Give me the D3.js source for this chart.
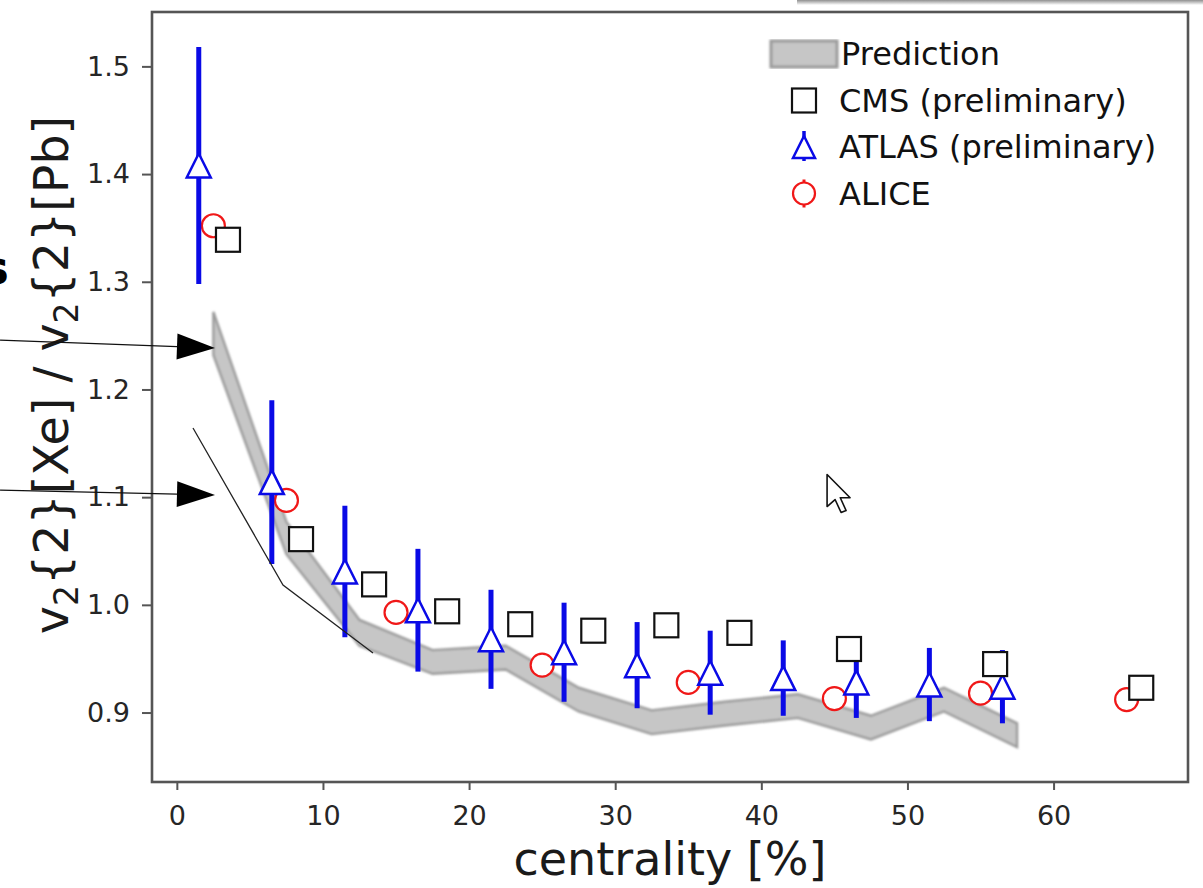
<!DOCTYPE html>
<html>
<head>
<meta charset="utf-8">
<script src="https://cdn.jsdelivr.net/npm/d3@7"></script>
<style>
  body { margin: 0; background: #fff; }
  svg { display: block; font-family: "DejaVu Sans", sans-serif; }
</style>
</head>
<body>
<svg id="chart" width="1203" height="888"></svg>
<script>
// ---- axis ticks ----
const xTicks = [0, 10, 20, 30, 40, 50, 60];
const yTicks = [0.9, 1.0, 1.1, 1.2, 1.3, 1.4, 1.5];

// ---- model prediction band (5% centrality bins) ----
const predX    = [2.5, 7.5, 12.5, 17.5, 22.5, 27.5, 32.5, 37.5, 42.5, 47.5, 52.5, 57.5];
const predLow  = [1.232, 1.047, 0.962, 0.936, 0.940, 0.901, 0.880, 0.888, 0.895, 0.875, 0.901, 0.868];
const predHigh = [1.272, 1.077, 0.986, 0.958, 0.962, 0.923, 0.902, 0.910, 0.917, 0.897, 0.923, 0.890];

// ---- CMS (preliminary) ----
const cmsX = [3.5, 8.5, 13.5, 18.5, 23.5, 28.5, 33.5, 38.5, 46, 56, 66];
const cmsY = [1.339, 1.061, 1.019, 0.994, 0.982, 0.976, 0.981, 0.974, 0.959, 0.945, 0.923];

// ---- ATLAS (preliminary) ----
const atlasX   = [1.5, 6.5, 11.5, 16.5, 21.5, 26.5, 31.5, 36.5, 41.5, 46.5, 51.5, 56.5];
const atlasY   = [1.408, 1.114, 1.031, 0.995, 0.968, 0.956, 0.944, 0.937, 0.932, 0.928, 0.926, 0.924];
const atlasErr = [0.110, 0.076, 0.061, 0.057, 0.046, 0.046, 0.040, 0.039, 0.035, 0.033, 0.034, 0.034];

// ---- ALICE ----
const aliceX = [2.5, 7.5, 15, 25, 35, 45, 55, 65];
const aliceY = [1.352, 1.097, 0.993, 0.944, 0.928, 0.913, 0.918, 0.912];

// ---- legend entries ----
const legendLabels = ["Prediction", "CMS (preliminary)", "ATLAS (preliminary)", "ALICE"];

// ---- slide annotations drawn over the figure (data coordinates) ----
const arrowTails = [[-12.1, 1.2459], [-12.1, 1.1066]];
const arrowTips  = [[2.61, 1.2385], [2.61, 1.1020]];
const sketchLine = [[1.106, 1.1642], [7.265, 1.0184], [13.425, 0.9553]];
const pointerAt  = [44.5, 1.121];

const svg = d3.select("#chart");
const W = 1203, H = 888;
const plot = { left: 152, right: 1188, top: 12, bottom: 782 };

const x = d3.scaleLinear().domain([-1.7, 69.2]).range([plot.left, plot.right]);
const y = d3.scaleLinear().domain([0.8355, 1.5505]).range([plot.bottom, plot.top]);

const defs = svg.append("defs");
defs.append("filter").attr("id", "soft")
  .attr("x", "-5%").attr("y", "-5%").attr("width", "110%").attr("height", "110%")
  .append("feGaussianBlur").attr("stdDeviation", 0.9);
const shade = defs.append("linearGradient").attr("id", "shade")
  .attr("x1", 0).attr("y1", 0).attr("x2", 0).attr("y2", 1);
shade.append("stop").attr("offset", "0%").attr("stop-color", "#8f8f8f");
shade.append("stop").attr("offset", "100%").attr("stop-color", "#ffffff");

svg.append("rect").attr("width", W).attr("height", H).attr("fill", "#fff");

// window shadow along the top edge
svg.append("rect").attr("x", 797).attr("y", 0).attr("width", W - 797).attr("height", 5)
  .attr("fill", "url(#shade)");

// ---- axes ----
const tickColor = "#555";
const xAxis = svg.append("g")
  .attr("transform", `translate(0,${plot.bottom})`)
  .call(d3.axisBottom(x).tickValues(xTicks).tickSize(8).tickPadding(16).tickFormat(d3.format("d")));
const yAxis = svg.append("g")
  .attr("transform", `translate(${plot.left},0)`)
  .call(d3.axisLeft(y).tickValues(yTicks).tickSize(10).tickPadding(12).tickFormat(d3.format(".1f")));
[xAxis, yAxis].forEach(g => {
  g.select(".domain").remove();
  g.selectAll(".tick line").attr("stroke", tickColor).attr("stroke-width", 2);
  g.selectAll(".tick text")
    .attr("fill", "#262626")
    .style("font-family", "'DejaVu Sans', sans-serif")
    .style("font-size", "27px");
});

// ---- prediction band ----
const band = predX.map((v, i) => ({ x: v, lo: predLow[i], hi: predHigh[i] }));
const area = d3.area().x(d => x(d.x)).y0(d => y(d.lo)).y1(d => y(d.hi));
svg.append("path").datum(band)
  .attr("d", area)
  .attr("fill", "#c6c6c6")
  .attr("stroke", "#9a9a9a")
  .attr("stroke-width", 2.4)
  .attr("stroke-linejoin", "miter")
  .attr("filter", "url(#soft)");

const markerSize = 24;

// ---- ALICE circles ----
svg.append("g").selectAll("circle")
  .data(aliceX.map((v, i) => [v, aliceY[i]]))
  .join("circle")
  .attr("cx", d => x(d[0])).attr("cy", d => y(d[1]))
  .attr("r", markerSize / 2 - 0.5)
  .attr("fill", "#fff").attr("stroke", "#f01818").attr("stroke-width", 2.2);

// ---- ATLAS error bars and triangles ----
const atlas = atlasX.map((v, i) => ({ x: v, y: atlasY[i], e: atlasErr[i] }));
const gA = svg.append("g");
gA.selectAll("line").data(atlas).join("line")
  .attr("x1", d => x(d.x)).attr("x2", d => x(d.x))
  .attr("y1", d => y(d.y - d.e)).attr("y2", d => y(d.y + d.e))
  .attr("stroke", "#0a0ae6").attr("stroke-width", 5);
const tri = s => `M0,${-s / 2}L${-s / 2},${s / 2}L${s / 2},${s / 2}Z`;
gA.selectAll("path").data(atlas).join("path")
  .attr("transform", d => `translate(${x(d.x)},${y(d.y)})`)
  .attr("d", tri(markerSize))
  .attr("fill", "#fff").attr("stroke", "#0a0ae6").attr("stroke-width", 2.5)
  .attr("stroke-linejoin", "miter");

// ---- CMS squares ----
svg.append("g").selectAll("rect")
  .data(cmsX.map((v, i) => [v, cmsY[i]]))
  .join("rect")
  .attr("x", d => x(d[0]) - markerSize / 2).attr("y", d => y(d[1]) - markerSize / 2)
  .attr("width", markerSize).attr("height", markerSize)
  .attr("fill", "#fff").attr("stroke", "#111").attr("stroke-width", 2.2);

// ---- frame ----
svg.append("rect")
  .attr("x", plot.left).attr("y", plot.top)
  .attr("width", plot.right - plot.left).attr("height", plot.bottom - plot.top)
  .attr("fill", "none").attr("stroke", "#555").attr("stroke-width", 2.6);

// ---- axis titles ----
svg.append("text")
  .attr("x", (plot.left + plot.right) / 2).attr("y", 875)
  .attr("text-anchor", "middle")
  .style("font-size", "46px").attr("fill", "#1a1a1a")
  .text("centrality [%]");

const yl = svg.append("text")
  .attr("transform", "translate(68,375) rotate(-90)")
  .attr("text-anchor", "middle")
  .style("font-size", "47.5px").attr("fill", "#1a1a1a");
yl.append("tspan").text("v");
yl.append("tspan").attr("dy", 10).style("font-size", "33px").text("2");
yl.append("tspan").attr("dy", -10).text("{2}[Xe] / v");
yl.append("tspan").attr("dy", 10).style("font-size", "33px").text("2");
yl.append("tspan").attr("dy", -10).text("{2}[Pb]");

// ---- legend ----
const lg = svg.append("g").style("font-size", "32px").attr("fill", "#111");
const lx = 804, ly0 = 54, lstep = 46.5;
lg.append("rect").attr("x", 771).attr("y", ly0 - 13).attr("width", 66).attr("height", 26)
  .attr("fill", "#c6c6c6").attr("stroke", "#9a9a9a").attr("stroke-width", 3)
  .attr("filter", "url(#soft)");
lg.append("rect").attr("x", lx - 12).attr("y", ly0 + lstep - 12)
  .attr("width", 24).attr("height", 24)
  .attr("fill", "#fff").attr("stroke", "#111").attr("stroke-width", 2.2);
lg.append("line").attr("x1", lx).attr("x2", lx)
  .attr("y1", ly0 + 2 * lstep - 16).attr("y2", ly0 + 2 * lstep + 14)
  .attr("stroke", "#0a0ae6").attr("stroke-width", 3.5);
lg.append("path").attr("transform", `translate(${lx},${ly0 + 2 * lstep})`)
  .attr("d", tri(22)).attr("fill", "#fff").attr("stroke", "#0a0ae6").attr("stroke-width", 2.5);
lg.append("line").attr("x1", lx).attr("x2", lx)
  .attr("y1", ly0 + 3 * lstep - 14).attr("y2", ly0 + 3 * lstep + 14)
  .attr("stroke", "#f01818").attr("stroke-width", 3);
lg.append("circle").attr("cx", lx).attr("cy", ly0 + 3 * lstep).attr("r", 11)
  .attr("fill", "#fff").attr("stroke", "#f01818").attr("stroke-width", 2.2);
legendLabels.forEach((t, i) => {
  lg.append("text")
    .attr("x", i === 0 ? 841 : 839)
    .attr("y", ly0 + i * lstep + 11)
    .text(t);
});

// ---- annotations: arrows, sketched line, pointer, clipped letter ----
const ann = svg.append("g");
arrowTails.forEach((t, i) => {
  const x0 = x(t[0]), y0 = y(t[1]);
  const x1 = x(arrowTips[i][0]), y1 = y(arrowTips[i][1]);
  const ang = Math.atan2(y1 - y0, x1 - x0);
  const L = 38, hw = 13;
  const bx = x1 - L * Math.cos(ang), by = y1 - L * Math.sin(ang);
  ann.append("line").attr("x1", x0).attr("y1", y0).attr("x2", bx).attr("y2", by)
    .attr("stroke", "#111").attr("stroke-width", 1.3);
  ann.append("path")
    .attr("d", `M${x1},${y1}L${bx - hw * Math.sin(ang)},${by + hw * Math.cos(ang)}L${bx + hw * Math.sin(ang)},${by - hw * Math.cos(ang)}Z`)
    .attr("fill", "#000");
});
ann.append("path")
  .attr("d", d3.line().x(d => x(d[0])).y(d => y(d[1]))(sketchLine))
  .attr("fill", "none").attr("stroke", "#222").attr("stroke-width", 1.3);

const px = x(pointerAt[0]), py = y(pointerAt[1]);
ann.append("path")
  .attr("transform", `translate(${px},${py}) scale(2)`)
  .attr("d", "M0,0L0,16L4,12.5L7,19L9.5,18L6.6,11.6L11.5,11.6Z")
  .attr("fill", "#fff").attr("stroke", "#111").attr("stroke-width", 0.8)
  .attr("stroke-linejoin", "round");

ann.append("text").attr("x", 9).attr("y", 284).attr("text-anchor", "end")
  .style("font-size", "46px").style("font-weight", "bold").attr("fill", "#000")
  .text("s");
</script>
</body>
</html>
